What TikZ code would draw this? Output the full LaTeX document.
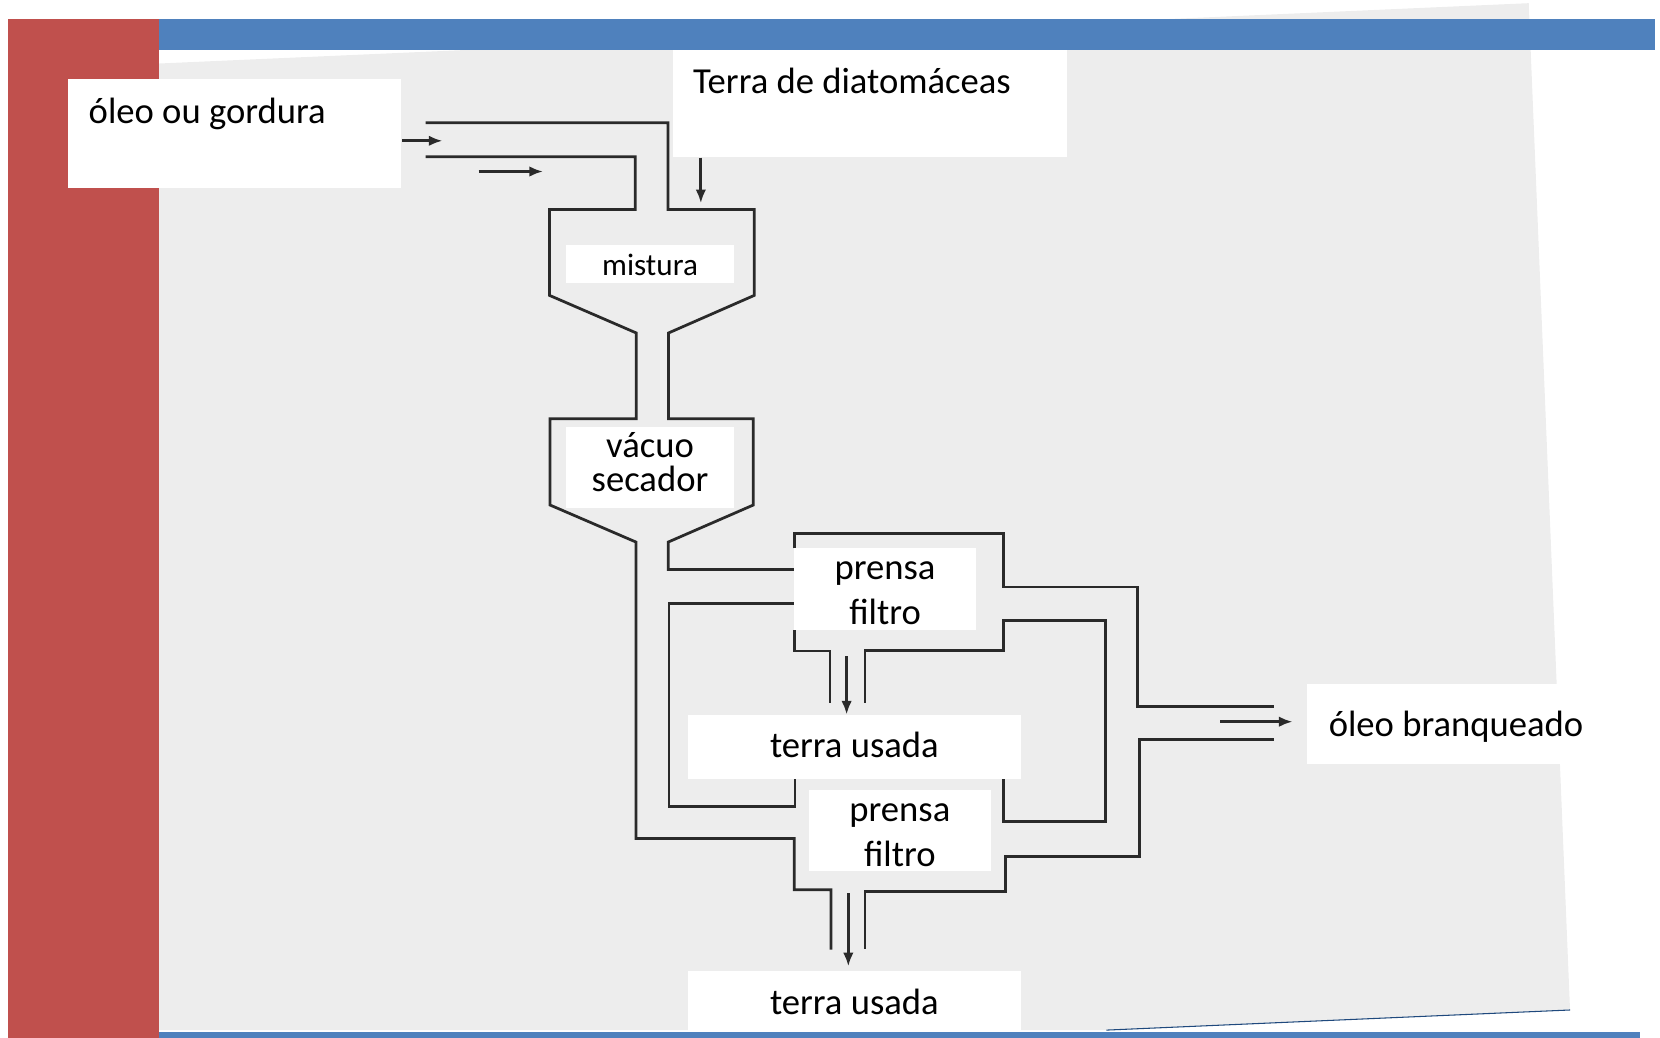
\documentclass[tikz,border=0pt]{standalone}
\usepackage{fontspec}
\setmainfont{Carlito}
\usetikzlibrary{positioning,arrows.meta}
\definecolor{barred}{HTML}{C0504D}
\definecolor{barblue}{HTML}{4F81BD}
\definecolor{edgeblue}{HTML}{1F497D}
\definecolor{paper}{HTML}{EDEDED}
\definecolor{ink}{HTML}{2A2A2A}

\begin{document}
\begin{tikzpicture}[x=0.5pt, y=-0.5pt,
    pipe/.style={draw=ink, line width=1.3pt},
    flow/.style={draw=ink, line width=1.3pt, -{Latex[length=6.5pt,width=5pt]}},
    lbl/.style={font=\fontsize{17.3}{21}\selectfont, inner sep=0pt, anchor=base}]
    \useasboundingbox (0,0) rectangle (1568,980);
    % scanned sheet
    \fill[paper] (150,60) -- (1444,3) -- (1483,954) -- (1045,973) -- (150,973) -- cycle;
    \draw[edgeblue, line width=0.5pt] (1483,954) -- (1045,973);
    % slide bars
    \fill[barred] (8,18) rectangle (150,980);
    \fill[barblue] (150,18) rectangle (1563,47);

    % oil inlet, mixer, vacuum dryer
    \draw[pipe] (402,116) -- (631,116) -- (631,198) -- (712.5,198) -- (712.5,279)
        -- (631.5,314.5) -- (631.5,395.5) -- (711.6,395.5) -- (711.6,477)
        -- (631.2,512) -- (631.2,538) -- (750,538);
    \draw[pipe] (402,148) -- (600,148) -- (600,198) -- (519,198) -- (519,279)
        -- (601,314.5) -- (601,395.5) -- (519.5,395.5) -- (519.5,477)
        -- (600.7,512) -- (600.7,792) -- (750.3,792) -- (750.3,840.5)
        -- (785,840.5) -- (785,897);
    % filter presses
    \draw[pipe] (750,570) -- (632,570) -- (632,761.5) -- (751,761.5) -- (751,735.5);
    \draw[pipe] (750.3,518) -- (750.3,504) -- (948,504) -- (948,554.5)
        -- (1074.5,554.5) -- (1074.5,667.5) -- (1203.5,667.5);
    \draw[pipe] (750.3,595) -- (750.3,615) -- (784,615) -- (784,664);
    \draw[pipe] (817,664) -- (817,614.5) -- (948,614.5) -- (948,586.3)
        -- (1044.5,586.3) -- (1044.5,776) -- (948,776) -- (948,735.5);
    \draw[pipe] (817,896) -- (817,842) -- (949.5,842) -- (949.5,809)
        -- (1076,809) -- (1076,698.4) -- (1203.5,698.4);

    % flow arrows
    \draw[flow] (380,133) -- (418,133);
    \draw[flow] (452,162) -- (513,162);
    \draw[flow] (662,149) -- (662,192);
    \draw[flow] (799.7,620) -- (799.7,675);
    \draw[flow] (801.3,843.5) -- (801.3,912.8);
    \draw[flow] (1152.5,681.7) -- (1221,681.7);

    % white label boxes
    \fill[white] (64.5,74.6) rectangle (378.5,177.3);
    \fill[white] (635.4,47) rectangle (1007.5,148.6);
    \fill[white] (535,231.4) rectangle (693,267.6);
    \fill[white] (535,403) rectangle (693,480);
    \fill[white] (750,518) rectangle (922,595);
    \fill[white] (650,675.7) rectangle (964,735.5);
    \fill[white] (764.2,746.2) rectangle (936,823);
    \fill[white] (650,917.5) rectangle (964,977.3);
    \fill[white] (1235,646) rectangle (1475,721.7);

    \node[lbl, anchor=base west] (oleo) at (83.4,117) {óleo ou gordura};
    \node[lbl, anchor=base west] (terra) at (654.3,88.1) {Terra de diatomáceas};
    \node[lbl, font=\fontsize{14.7}{17}\selectfont] (mistura) at (614,259.8) {mistura};
    \node[lbl, align=center, font=\fontsize{17.3}{16}\selectfont] (secador) at (614,464) {vácuo\\secador};
    \node[lbl, align=center, font=\fontsize{17.3}{21.3}\selectfont] (prensa1) at (836,590) {prensa\\filtro};
    \node[lbl] (usada1) at (807,715.3) {terra usada};
    \node[lbl, align=center, font=\fontsize{17.3}{21.3}\selectfont] (prensa2) at (850,818.2) {prensa\\filtro};
    \node[lbl] (usada2) at (807,958.4) {terra usada};
    \node[lbl, anchor=base west] (branco) at (1254.7,695.2) {óleo branqueado};

    \fill[barblue] (150,975) rectangle (1549,980);
\end{tikzpicture}
\end{document}
